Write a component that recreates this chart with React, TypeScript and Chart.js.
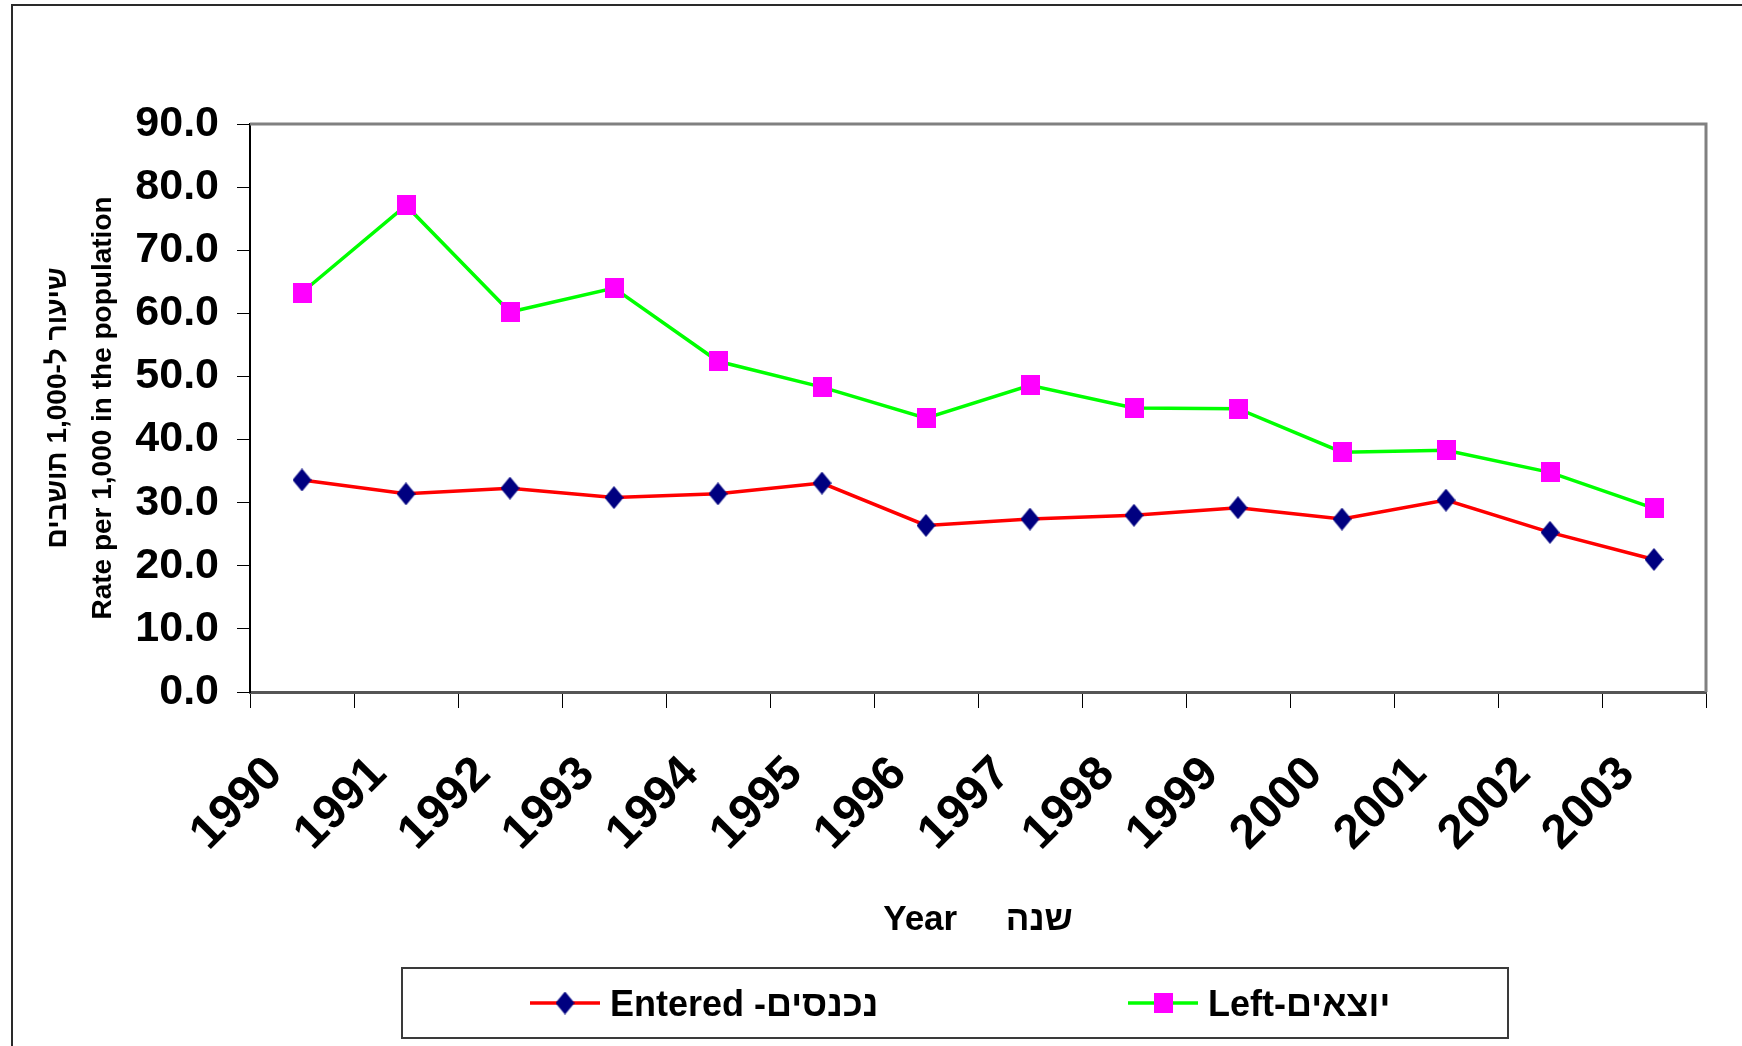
import React, { useEffect, useRef } from 'react';
import { Chart, registerables } from 'chart.js';

Chart.register(...registerables);

// ---- Data ----
const years = ['1990', '1991', '1992', '1993', '1994', '1995', '1996', '1997', '1998', '1999', '2000', '2001', '2002', '2003'];
const enteredRates = [33.6, 31.4, 32.3, 30.8, 31.4, 33.1, 26.4, 27.4, 28.0, 29.2, 27.4, 30.4, 25.3, 21.0];
const leftRates = [63.3, 77.1, 60.2, 64.0, 52.4, 48.3, 43.4, 48.6, 45.0, 44.9, 38.0, 38.3, 34.8, 29.1];
const seriesLabels = ['Entered -נכנסים', 'Left-יוצאים'];
const yAxisTitleLines = ['שיעור ל-1,000 תושבים', 'Rate per 1,000 in the population'];
const xAxisTitle = 'Year     שנה';
const Y_MIN = 0;
const Y_MAX = 90;
const Y_STEP = 10;

const FONT = '"Liberation Sans", Arial, Helvetica, sans-serif';

function makeDiamond(w: number, h: number, color: string): HTMLCanvasElement {
  const c = document.createElement('canvas');
  c.width = w;
  c.height = h;
  const g = c.getContext('2d')!;
  g.fillStyle = color;
  g.beginPath();
  g.moveTo(w / 2, 0);
  g.lineTo(w, h / 2);
  g.lineTo(w / 2, h);
  g.lineTo(0, h / 2);
  g.closePath();
  g.fill();
  return c;
}

function makeRect(w: number, h: number, color: string): HTMLCanvasElement {
  const c = document.createElement('canvas');
  c.width = w;
  c.height = h;
  const g = c.getContext('2d')!;
  g.fillStyle = color;
  g.fillRect(0, 0, w, h);
  return c;
}

export default function App() {
  const ref = useRef<HTMLCanvasElement>(null);

  useEffect(() => {
    const canvas = ref.current;
    if (!canvas) return;
    const diamond = makeDiamond(19, 23, '#000080');
    const square = makeRect(19, 20, '#FF00FF');
    const markers = [diamond, square];
    const lineColors = ['#FF0000', '#00FF00'];

    const framePlugin = {
      id: 'frames',
      beforeDraw(chart: any) {
        const ctx = chart.ctx as CanvasRenderingContext2D;
        ctx.save();
        ctx.fillStyle = '#FFFFFF';
        ctx.fillRect(0, 0, chart.width, chart.height);
        ctx.strokeStyle = '#2a2a2a';
        ctx.lineWidth = 2;
        ctx.strokeRect(12, 5, chart.width + 50, chart.height + 50);
        ctx.restore();
      },
      beforeDatasetsDraw(chart: any) {
        const ctx = chart.ctx as CanvasRenderingContext2D;
        const a = chart.chartArea;
        ctx.save();
        ctx.strokeStyle = '#808080';
        ctx.lineWidth = 3;
        ctx.beginPath();
        ctx.moveTo(a.left, a.top);
        ctx.lineTo(a.right, a.top);
        ctx.lineTo(a.right, a.bottom);
        ctx.stroke();
        ctx.restore();
      },
    };

    const legendPlugin = {
      id: 'boxLegend',
      afterDraw(chart: any) {
        const ctx = chart.ctx as CanvasRenderingContext2D;
        const box = { left: 402, top: 968, right: 1508, bottom: 1038 };
        const cy = (box.top + box.bottom) / 2;
        const itemStarts = [530, 1128];
        ctx.save();
        ctx.strokeStyle = '#3a3a3a';
        ctx.lineWidth = 2;
        ctx.strokeRect(box.left, box.top, box.right - box.left, box.bottom - box.top);
        chart.data.datasets.forEach((ds: any, i: number) => {
          const x0 = itemStarts[i];
          ctx.strokeStyle = lineColors[i];
          ctx.lineWidth = 3.5;
          ctx.beginPath();
          ctx.moveTo(x0, cy);
          ctx.lineTo(x0 + 70, cy);
          ctx.stroke();
          const m = markers[i];
          ctx.drawImage(m, x0 + 35 - m.width / 2, cy - m.height / 2);
          ctx.fillStyle = '#000';
          ctx.font = `bold 36px ${FONT}`;
          ctx.textAlign = 'left';
          ctx.textBaseline = 'middle';
          ctx.fillText(ds.label, x0 + 80, cy + 3);
        });
        ctx.restore();
      },
    };

    const chart = new Chart(canvas, {
      type: 'line',
      data: {
        labels: years,
        datasets: [
          {
            label: seriesLabels[0],
            data: enteredRates,
            borderColor: lineColors[0],
            backgroundColor: '#000080',
            borderWidth: 3.5,
            pointStyle: diamond as any,
            pointRadius: 10,
            pointHoverRadius: 10,
            tension: 0,
            fill: false,
          },
          {
            label: seriesLabels[1],
            data: leftRates,
            borderColor: lineColors[1],
            backgroundColor: '#FF00FF',
            borderWidth: 3.5,
            pointStyle: square as any,
            pointRadius: 10,
            pointHoverRadius: 10,
            tension: 0,
            fill: false,
          },
        ],
      },
      options: {
        responsive: false,
        animation: false,
        devicePixelRatio: 1,
        events: [],
        layout: { padding: { left: 12, top: 124, right: 36, bottom: 94 } },
        plugins: {
          legend: { display: false },
          tooltip: { enabled: false },
          title: { display: false },
        },
        scales: {
          x: {
            offset: true,
            grid: {
              offset: true,
              drawOnChartArea: false,
              drawTicks: true,
              tickLength: 16,
              color: '#000000',
              lineWidth: 1,
            },
            border: { color: '#555555', width: 3 },
            ticks: {
              autoSkip: false,
              minRotation: 45,
              maxRotation: 45,
              padding: 38,
              labelOffset: -27,
              color: '#000000',
              font: { family: FONT, size: 48, weight: 'bold' },
            },
            title: {
              display: true,
              text: xAxisTitle,
              color: '#000000',
              font: { family: FONT, size: 35, weight: 'bold', lineHeight: 1.2 },
              padding: { top: 0, bottom: 11 },
            },
            afterFit: (s: any) => {
              s.height = 260;
            },
          },
          y: {
            min: Y_MIN,
            max: Y_MAX,
            grid: {
              drawOnChartArea: false,
              drawTicks: true,
              tickLength: 13,
              color: '#000000',
              lineWidth: 1,
            },
            border: { color: '#000000', width: 2 },
            ticks: {
              stepSize: Y_STEP,
              padding: 18,
              color: '#000000',
              font: { family: FONT, size: 43, weight: 'bold' },
              callback: (v: any) => Number(v).toFixed(1),
            },
            title: {
              display: true,
              text: yAxisTitleLines,
              color: '#000000',
              font: { family: FONT, size: 28, weight: 'bold', lineHeight: 1.607 },
              padding: { top: 23.5, bottom: 0 },
            },
            afterFit: (s: any) => {
              s.width = 238;
            },
          },
        },
      } as any,
      plugins: [framePlugin, legendPlugin],
    });

    return () => chart.destroy();
  }, []);

  return (
    <div style={{ position: 'absolute', left: 0, top: 0, width: 1742, height: 1046 }}>
      <canvas ref={ref} width={1742} height={1046} style={{ display: 'block' }} />
    </div>
  );
}
